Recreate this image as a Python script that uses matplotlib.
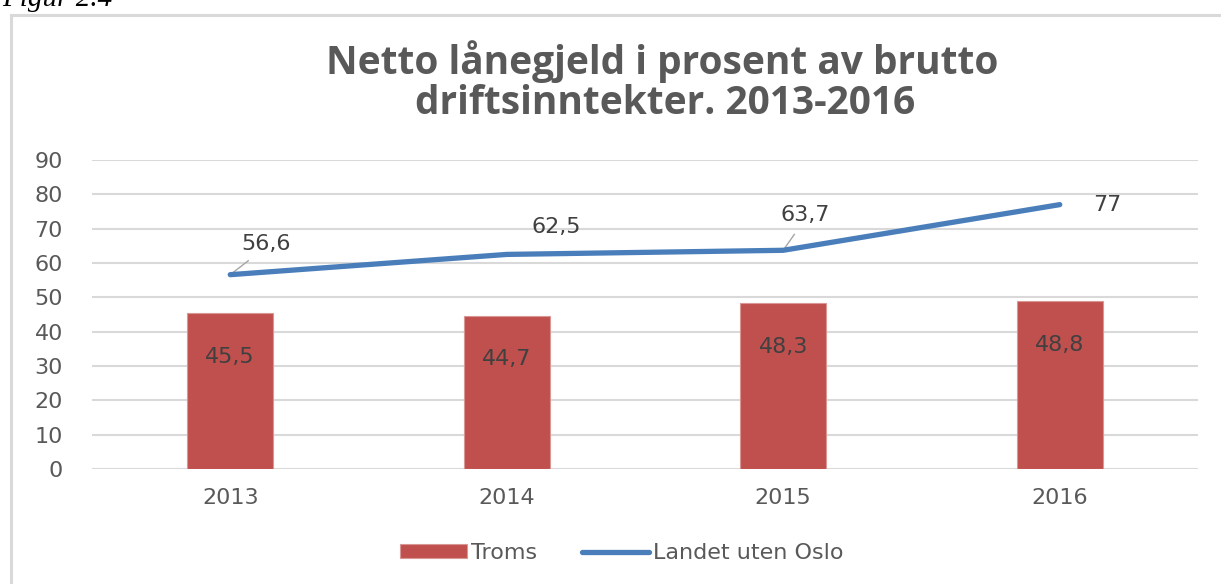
import matplotlib
matplotlib.use("Agg")
import matplotlib.pyplot as plt
from matplotlib.patches import Rectangle

years = ["2013", "2014", "2015", "2016"]
troms = [45.5, 44.7, 48.3, 48.8]
landet = [56.6, 62.5, 63.7, 77]
troms_labels = ["45,5", "44,7", "48,3", "48,8"]
landet_labels = ["56,6", "62,5", "63,7", "77"]
yticks = [0, 10, 20, 30, 40, 50, 60, 70, 80, 90]

plt.rcParams["font.family"] = "DejaVu Sans"

W, H = 1221, 584
fig = plt.figure(figsize=(W / 100, H / 100), dpi=100)
fig.patch.set_facecolor("white")

# frame around chart
fig.patches.append(Rectangle((11 / W, -0.1), 1.2, 1 - 15 / H + 0.1,
                             transform=fig.transFigure, fill=False,
                             edgecolor="#d9d9d9", linewidth=2.2, zorder=0))
fig.text(2 / W, 1 - 6 / H, "Figur 2.4", family="Liberation Serif",
         style="italic", fontsize=21, color="black", ha="left", va="baseline")

ax = fig.add_axes([92 / W, (584 - 469) / H, (1198 - 92) / W, (469 - 160) / H])
x = list(range(len(years)))
grey = "#595959"

bars = ax.bar(x, troms, width=0.31, color="#c0504d", edgecolor="#d99694",
              linewidth=0.8, zorder=2, label="Troms")
line, = ax.plot(x, landet, color="#4a7ebb", linewidth=3.8,
                solid_capstyle="round", zorder=3, label="Landet uten Oslo")

ax.set_xlim(-0.5, 3.5)
ax.set_ylim(0, 90)
ax.set_yticks(yticks)
ax.set_xticks(x)
ax.set_xticklabels(years)
ax.tick_params(axis="both", length=0, labelsize=16, labelcolor=grey)
ax.tick_params(axis="y", pad=21)
ax.tick_params(axis="x", pad=14)
for s in ax.spines.values():
    s.set_visible(False)
ax.yaxis.grid(True, color="#d9d9d9", linewidth=1.5, zorder=0)
ax.set_axisbelow(True)

# bar labels
for xi, v, lab in zip(x, troms, troms_labels):
    ax.text(xi, v - 12.8, lab, ha="center", va="center", fontsize=16,
            color="#404040", zorder=4)

# line labels with leader lines
offsets = [(0.13, 9.0), (0.18, 8.0), (0.08, 10.3), (0.17, 0.0)]
for xi, v, lab, (dx, dy) in zip(x, landet, landet_labels, offsets):
    ax.text(xi + dx, v + dy, lab, ha="center", va="center", fontsize=16,
            color="#404040", zorder=4)
for i in (0, 2):
    xi, v = x[i], landet[i]
    dx, dy = offsets[i]
    ax.plot([xi, xi + dx * 0.5], [v, v + dy * 0.45], color="#a6a6a6",
            linewidth=1, zorder=2.5)

fig.text(662 / W, 1 - 62 / H, "Netto lånegjeld i prosent av brutto",
         ha="center", va="center", fontsize=28, fontweight="bold",
         family="Open Sans", color=grey)
fig.text(665 / W, 1 - 103 / H, "driftsinntekter. 2013-2016",
         ha="center", va="center", fontsize=28, fontweight="bold",
         family="Open Sans", color=grey)

leg = fig.legend([bars, line], ["Troms", "Landet uten Oslo"],
                 loc="center", bbox_to_anchor=(622 / W, 1 - 553 / H),
                 ncol=2, frameon=False, handlelength=3.0, handleheight=0.6,
                 handletextpad=0.2, columnspacing=2.0,
                 prop={"size": 16})
for t in leg.get_texts():
    t.set_color(grey)

fig.savefig("out.png", dpi=100, facecolor="white")
